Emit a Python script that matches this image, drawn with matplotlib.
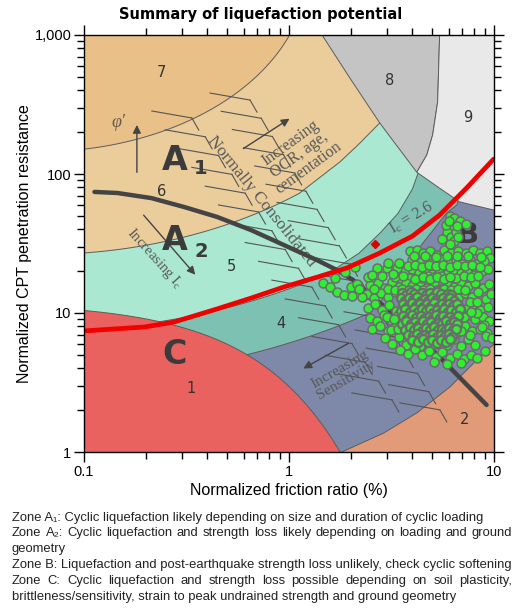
import numpy as np
import matplotlib.pyplot as plt
from matplotlib.patches import Polygon
from matplotlib.ticker import FixedLocator, FixedFormatter, LogLocator, NullFormatter

plt.rcParams['font.family'] = ['Liberation Sans', 'DejaVu Sans']

# Soil behaviour type zones (Robertson chart) - colours
zone_colors = {
    1: '#E9625F', 2: '#E19B79', 3: '#7E88A8', 4: '#7DC1B3', 5: '#AAE8D1',
    6: '#EBCD9C', 7: '#E9C087', 8: '#C4C4C4', 9: '#E9E9E9',
}
edge_col = '#5c5c5c'

# zone boundaries that do not follow an Ic circle
b65_fr = [1.77, 2.2, 2.77, 3.3, 3.6]
b65_qt = [122, 165, 233, 500, 3000]
b54_fr = [2.2, 2.8, 3.4, 4.0, 4.3, 4.6, 4.8]
b54_qt = [27, 38, 52, 78, 105, 200, 3000]
b43_fr = [3.36, 4.35, 5.87, 6.6, 7.2, 7.5]
b43_qt = [15.9, 29.9, 52.4, 60, 100, 3000]
b32_fr = [0.03, 1.0, 1.2, 1.81, 2.9, 4.2, 6.1, 8.9, 12]
b32_qt = [0.3, 0.3, 0.5, 1.0, 1.37, 1.91, 2.94, 5.15, 7.5]
l89_fr = [1.40, 1.45, 1.98, 2.77, 4.2, 5.43, 6.8, 10, 12]
l89_qt = [1500, 1000, 491, 233, 103, 79, 63, 55, 53]
div89_fr = [4.2, 4.7, 5.02, 5.31, 5.43, 5.45]
div89_qt = [103, 137, 191, 330, 1000, 3000]

# red trend line
red_fr = [0.1, 0.197, 0.275, 0.446, 0.653, 0.946, 1.37, 1.92, 2.77, 4.01, 5.43, 7.35, 9.96]
red_qt = [7.43, 7.93, 8.61, 10.7, 12.8, 15.4, 18.1, 21.1, 27.0, 35.8, 50.7, 79.3, 128]

# thick grey line
grey_fr = [0.1125, 0.1456, 0.213, 0.308, 0.446, 0.653, 0.946, 1.37, 1.71, 2.05, 3.47, 5.61, 9.2]
grey_qt = [74.3, 73.0, 67.1, 57.9, 49.1, 39.5, 30.8, 24.0, 20.4, 17.3, 8.9, 4.59, 2.18]

# CPT data points
trail_fr = [6.1, 6.4, 6.8, 7.3, 6.2, 5.9, 6.2, 6.5, 5.8, 5.6, 6.0, 6.6, 6.4, 6.7, 6.1]
trail_qt = [50, 48, 46, 44, 41, 38, 35.5, 38, 43, 34, 46, 42, 33, 35, 31.5]
low_fr = [1.46, 1.58, 1.71, 1.85, 2.00, 2.14, 2.03, 2.27, 2.42, 2.68, 3.00, 3.35,
          2.10, 1.87, 1.67, 3.03, 3.43, 2.53, 2.2, 2.85, 3.2]
low_qt = [16.5, 15.3, 14.1, 13.5, 15.3, 16.3, 13.3, 13.1, 18.3, 21.0, 21.0, 21.0,
          21.6, 19.6, 18.0, 23.0, 23.0, 18.7, 15.0, 18.5, 19.0]
body_fr = [
    3.9, 4.2, 4.5, 4.9, 5.3, 5.7, 6.2, 6.7, 7.3, 7.9, 8.5, 9.2, 9.6,
    4.0, 4.4, 4.7, 5.1, 5.5, 6.0, 6.5, 7.0, 7.6, 8.2, 8.9,
    3.67, 3.97, 4.3, 4.6, 5.0, 5.4, 5.9, 6.35, 6.9, 7.4, 8.0, 8.7, 9.4, 3.55, 3.84,
    2.48, 2.71, 2.93, 3.17, 3.43, 3.71, 4.0, 4.34, 4.7, 5.07, 5.5, 5.9, 6.4, 6.9, 7.5, 8.1, 8.8, 9.5,
    2.40, 2.6, 2.8, 3.03, 3.28, 3.55, 3.84, 4.15, 4.5, 4.86, 5.26, 5.7, 6.15, 6.65, 7.2, 7.8, 8.4, 9.1, 9.7,
    2.43, 2.62, 2.84, 3.06, 3.31, 3.59, 3.88, 4.2, 4.54, 4.9, 5.3, 5.7, 6.2, 6.7, 7.3, 7.9, 8.5, 9.3,
    2.48, 2.68, 2.9, 3.14, 3.39, 3.67, 3.97, 4.29, 4.64, 5.02, 5.43, 5.87, 6.35, 6.87, 7.43, 8.04, 8.8, 9.5,
    2.53, 2.77, 3.03, 3.28, 3.55, 3.84, 4.15, 4.49, 4.86, 5.26, 5.7, 6.15, 6.65, 7.2, 7.8, 8.5, 9.2,
    2.93, 3.17, 3.43, 3.71, 4.0, 4.34, 4.7, 5.07, 5.5, 5.9, 6.4, 6.9, 7.5, 8.1, 9.1, 9.8,
    3.47, 3.8, 4.1, 4.44, 4.8, 5.2, 5.6, 6.07, 6.6, 7.1, 7.7, 8.3, 9.0, 5.07, 5.93, 6.94,
]
body_qt = [
    27.7, 28.6, 27.2, 28.1, 26.3, 28.6, 26.8, 28.1, 27.2, 28.6, 26.8, 27.7, 25.0,
    24.0, 23.1, 24.9, 23.1, 24.4, 23.1, 24.0, 22.7, 24.0, 22.7, 23.6,
    20.0, 20.8, 19.4, 20.4, 19.0, 20.0, 19.0, 20.4, 19.4, 20.0, 18.7, 20.0, 20.8, 17.3, 17.8,
    15.9, 16.4, 15.2, 16.6, 15.4, 16.4, 15.6, 16.8, 15.2, 16.4, 15.0, 16.4, 15.4, 16.6, 15.6, 16.4, 15.2, 16.1,
    13.6, 12.8, 14.0, 13.0, 14.2, 13.3, 14.3, 12.9, 13.8, 12.8, 14.1, 13.2, 14.3, 12.8, 14.0, 13.0, 14.1, 12.7, 13.8,
    10.9, 11.6, 10.5, 11.4, 10.4, 11.2, 10.5, 11.6, 10.7, 11.4, 10.3, 11.2, 10.5, 11.4, 10.7, 11.6, 10.5, 11.0,
    9.2, 8.7, 9.6, 8.9, 9.7, 8.8, 9.5, 8.7, 9.6, 9.0, 9.7, 8.7, 9.5, 8.8, 9.6, 9.0, 9.3, 8.7,
    7.7, 8.1, 7.4, 7.9, 7.2, 7.8, 7.3, 8.1, 7.4, 7.9, 7.1, 7.8, 7.3, 8.0, 7.4, 7.7, 7.2,
    6.6, 6.0, 6.7, 5.9, 6.5, 5.8, 6.7, 6.0, 6.6, 5.9, 6.5, 5.8, 6.5, 5.9, 6.8, 6.6,
    5.4, 5.1, 5.5, 5.0, 5.3, 4.85, 5.2, 4.75, 5.1, 4.7, 5.0, 4.75, 5.3, 4.45, 4.3, 4.4,
]
mid_fr = [4.05, 4.6, 5.2, 5.9, 6.6, 7.5, 8.6,
          3.8, 4.1, 4.45, 4.8, 5.2, 5.65, 6.1, 6.6, 7.2, 7.8, 8.5,
          3.3, 3.6, 4.45, 4.75, 5.1, 5.5, 6.55, 7.1, 7.7, 8.4,
          2.6, 3.05, 3.3, 3.55, 3.85, 4.15, 4.5, 4.85, 5.25, 5.7, 6.15, 6.65, 7.2,
          4.1, 4.5, 4.9, 5.3, 5.7, 6.1, 7.6, 8.3, 8.9,
          3.0, 3.25, 7.15, 7.7, 8.3, 3.15, 3.4, 6.9, 7.6, 8.7]
mid_qt = [25.5, 25.9, 25.3, 25.7, 25.5, 25.9, 25.3,
          21.8, 22.2, 21.6, 22.0, 21.8, 22.2, 21.6, 22.0, 21.8, 22.2, 21.6,
          18.2, 18.6, 18.0, 18.4, 18.2, 18.6, 18.0, 18.4, 18.2, 18.6,
          14.8, 15.0, 14.6, 14.9, 14.7, 15.0, 14.6, 14.9, 14.7, 15.0, 14.6, 14.9, 14.7,
          17.7, 18.1, 17.7, 18.1, 17.7, 18.1, 12.0, 10.0, 8.2,
          9.3, 9.1, 9.4, 10.1, 11.9, 7.55, 7.7, 7.45, 6.9, 7.9]
# densest part of the cloud
core_fr = [3.55, 3.72, 3.95, 4.08, 4.3, 4.44, 4.68, 4.85, 5.1, 5.28, 5.5, 5.75, 5.95, 6.2,
           3.5, 3.66, 3.86, 4.02, 4.22, 4.38, 4.6, 4.78, 5.0, 5.2, 5.42, 5.62, 5.88, 6.1, 6.4,
           3.58, 3.8, 3.98, 4.15, 4.35, 4.52, 4.72, 4.93, 5.12, 5.35, 5.58, 5.8, 6.02, 6.3, 6.6,
           3.52, 3.7, 3.9, 4.08, 4.28, 4.46, 4.65, 4.88, 5.05, 5.28, 5.5, 5.72, 5.95, 6.2, 6.5, 6.8,
           3.6, 3.78, 3.98, 4.18, 4.4, 4.58, 4.8, 5.0, 5.22, 5.45, 5.66, 5.9, 6.12, 6.4, 6.7,
           3.55, 3.74, 3.92, 4.12, 4.32, 4.52, 4.72, 4.95, 5.15, 5.38, 5.6, 5.84, 6.08, 6.35, 6.6,
           3.68, 3.88, 4.06, 4.26, 4.46, 4.66, 4.88, 5.1, 5.32, 5.55, 5.78, 6.0, 6.28, 6.55,
           3.82, 4.02, 4.22, 4.42, 4.62, 4.84, 5.05, 5.28, 5.5, 5.74, 6.0, 6.25,
           4.0, 4.25, 4.5, 4.75, 5.0, 5.25, 5.5, 5.8, 6.1]
core_qt = [13.9, 13.4, 14.1, 13.6, 13.2, 14.0, 13.5, 13.9, 13.3, 14.2, 13.6, 13.1, 13.8, 13.4,
           12.9, 12.3, 12.8, 12.4, 13.0, 12.2, 12.7, 12.3, 12.9, 12.5, 12.1, 12.8, 12.4, 12.9, 12.3,
           11.7, 11.2, 11.8, 11.3, 11.6, 11.0, 11.7, 11.3, 11.8, 11.1, 11.6, 11.2, 11.7, 11.3, 11.6,
           10.3, 10.7, 10.2, 10.6, 10.1, 10.7, 10.3, 10.6, 10.0, 10.5, 10.2, 10.7, 10.1, 10.5, 10.2, 10.6,
           9.5, 9.1, 9.6, 9.2, 9.5, 9.0, 9.4, 9.1, 9.6, 9.2, 9.5, 9.0, 9.4, 9.1, 9.5,
           8.4, 8.7, 8.3, 8.6, 8.2, 8.7, 8.4, 8.6, 8.2, 8.5, 8.3, 8.7, 8.3, 8.6, 8.3,
           7.6, 7.9, 7.5, 7.8, 7.4, 7.8, 7.5, 7.9, 7.5, 7.7, 7.4, 7.8, 7.5, 7.7,
           7.0, 6.8, 7.1, 6.7, 7.0, 6.8, 7.1, 6.7, 7.0, 6.8, 7.1, 6.7,
           6.4, 6.2, 6.5, 6.2, 6.4, 6.1, 6.4, 6.2, 6.5]
marker_fr, marker_qt = 2.62, 31.3


def ic_line(ic, lo, hi, n=200):
    lf = np.linspace(lo, hi, n)
    return list(10 ** lf), list(10 ** (3.47 - np.sqrt(ic ** 2 - (lf + 1.22) ** 2)))


def add_zone(ax, fr, qt, zone, z):
    ax.add_patch(Polygon(np.column_stack([fr, qt]), closed=True,
                         facecolor=zone_colors[zone], edgecolor=edge_col,
                         linewidth=0.7, zorder=z))


fig = plt.figure(figsize=(5.32, 6.08), dpi=100)
ax = fig.add_axes([84 / 532, 156 / 608, 410 / 532, 417 / 608])
ax.set_xscale('log')
ax.set_yscale('log')
ax.set_xlim(0.1, 10)
ax.set_ylim(1, 1000)
ax.set_facecolor(zone_colors[2])

top = 3000
# zone 3 (above the 3/2 boundary)
add_zone(ax, b32_fr + [12, 0.03], b32_qt + [top, top], 3, 1.0)
# zone 4
f, q = ic_line(2.95, -1.5, np.log10(2.41))
add_zone(ax, f + b43_fr + [0.03], q + b43_qt + [top], 4, 1.1)
# zone 5
f, q = ic_line(2.6, -1.5, np.log10(1.58))
add_zone(ax, f + b54_fr + [0.03], q + b54_qt + [top], 5, 1.2)
# zone 6
f, q = ic_line(2.05, -1.5, np.log10(1.12))
add_zone(ax, f + b65_fr + [0.03], q + b65_qt + [top], 6, 1.3)
# zone 7
f, q = ic_line(1.31, -1.5, 0.085)
add_zone(ax, f + [0.03], q + [top], 7, 1.4)
# zone 1
fz = np.linspace(0.03, 2.1, 200)
add_zone(ax, list(fz) + [2.1, 0.03], list(12 * np.exp(-1.4 * fz)) + [0.3, 0.3], 1, 1.5)
# zones 8 and 9
j = l89_fr.index(4.2)
add_zone(ax, l89_fr[:j] + div89_fr, l89_qt[:j] + div89_qt, 8, 1.6)
add_zone(ax, div89_fr[::-1] + l89_fr[j + 1:] + [12], div89_qt[::-1] + l89_qt[j + 1:] + [top], 9, 1.7)

# hatched normally consolidated band
hatch_col = '#555555'
for (x0, y0), (x1, y1), n in [((0.405, 0.844), (0.868, 0.101), 18),
                               ((0.263, 0.801), (0.751, 0.125), 16)]:
    for t in np.linspace(0, 1, n):
        ax_x = x0 + (x1 - x0) * t
        ax_y = y0 + (y1 - y0) * t
        ax.plot([ax_x - 0.0976, ax_x], [ax_y + 0.0168, ax_y], color=hatch_col,
                lw=0.8, transform=ax.transAxes, zorder=2)
        ax.plot([ax_x, ax_x + 0.017], [ax_y, ax_y - 0.029], color=hatch_col,
                lw=0.8, transform=ax.transAxes, zorder=2)

serif = ['Liberation Serif', 'DejaVu Serif']
note_col = '#585858'
ax.text(0.434, 0.602, 'Normally Consolidated', rotation=-51, ha='center', va='center',
        rotation_mode='anchor', family=serif, fontsize=12.5, color=note_col,
        transform=ax.transAxes, zorder=3)
ax.text(0.525, 0.712, 'Increasing\nOCR, age,\ncementation', rotation=36, ha='center',
        va='center', rotation_mode='anchor', family=serif, fontsize=11.5, color=note_col,
        linespacing=0.95, transform=ax.transAxes, zorder=3)
ax.text(0.173, 0.465, r'Increasing $\mathregular{I_c}$', rotation=-48, ha='center',
        va='center', rotation_mode='anchor', family=serif, fontsize=10.5, color=note_col,
        transform=ax.transAxes, zorder=3)
ax.text(0.632, 0.185, 'Increasing\nSensitivity', rotation=30, ha='center', va='center',
        rotation_mode='anchor', family=serif, fontsize=11, color=note_col,
        linespacing=0.95, transform=ax.transAxes, zorder=3)
ax.text(0.800, 0.561, r'$\mathregular{I_c}$ = 2.6', rotation=31, ha='center', va='center',
        rotation_mode='anchor', family=serif, fontsize=11.5, color=note_col,
        transform=ax.transAxes, zorder=3)
ax.text(0.085, 0.791, "φ'", ha='center', va='center', family=serif, style='italic',
        fontsize=13, color='#6a5a4a', transform=ax.transAxes, zorder=3)

arrow_kw = dict(arrowstyle='-|>', color='#444444', lw=1.0, mutation_scale=12)
for start, end in [((0.129, 0.664), (0.129, 0.791)),
                   ((0.383, 0.724), (0.507, 0.803)),
                   ((0.141, 0.573), (0.276, 0.420)),
                   ((0.651, 0.264), (0.529, 0.197))]:
    ax.annotate('', xy=end, xytext=start, xycoords='axes fraction',
                textcoords='axes fraction', arrowprops=arrow_kw, zorder=3)

# zone numbers
for num, (x, y) in {'7': (0.190, 0.909), '8': (0.746, 0.892), '9': (0.937, 0.801),
                    '6': (0.190, 0.624), '5': (0.359, 0.444), '4': (0.480, 0.309),
                    '1': (0.261, 0.153), '2': (0.927, 0.077)}.items():
    ax.text(x, y, num, ha='center', va='center', fontsize=10.5, color='#333333',
            family='DejaVu Sans', transform=ax.transAxes, zorder=3)

# liquefaction zone letters
big = dict(ha='center', va='center', family='DejaVu Sans', weight='bold',
           color='#3b3b3b', transform=ax.transAxes, zorder=3)
ax.text(0.222, 0.700, 'A', fontsize=24, **big)
ax.text(0.285, 0.680, '1', fontsize=14, **big)
ax.text(0.222, 0.507, 'A', fontsize=24, **big)
ax.text(0.285, 0.481, '2', fontsize=14, **big)
ax.text(0.222, 0.233, 'C', fontsize=24, **big)
ax.text(0.935, 0.52, 'B', fontsize=21, **big)

ax.plot(grey_fr, grey_qt, color='#444444', lw=3.2, solid_capstyle='round', zorder=4)
dot_kw = dict(s=42, facecolor='#30EE30', edgecolor='#6c6c6c', zorder=5)
ax.scatter(body_fr + mid_fr + low_fr + trail_fr, body_qt + mid_qt + low_qt + trail_qt,
           linewidth=1.1, **dot_kw)
ax.scatter(core_fr, core_qt, linewidth=1.7, **dot_kw)
ax.plot(red_fr, red_qt, color='#F20000', lw=3.4, solid_capstyle='round', zorder=6)
ax.plot([marker_fr], [marker_qt], marker='D', ms=4.5, color='#E00000', zorder=6)

# axes and ticks
ax.xaxis.set_major_locator(FixedLocator([0.1, 1, 10]))
ax.xaxis.set_major_formatter(FixedFormatter(['0.1', '1', '10']))
ax.yaxis.set_major_locator(FixedLocator([1, 10, 100, 1000]))
ax.yaxis.set_major_formatter(FixedFormatter(['1', '10', '100', '1,000']))
for axis in (ax.xaxis, ax.yaxis):
    axis.set_minor_locator(LogLocator(base=10, subs=np.arange(2, 10)))
    axis.set_minor_formatter(NullFormatter())
ax.tick_params(which='both', direction='out', top=True, right=True, labelsize=10.5,
               width=1.0, colors='black')
ax.tick_params(which='major', length=7, pad=2)
ax.tick_params(which='minor', length=5)
for sp in ax.spines.values():
    sp.set_linewidth(1.0)
    sp.set_zorder(10)

fig.text(261 / 532, 1 - 15 / 608, 'Summary of liquefaction potential', ha='center',
         va='center', family='DejaVu Sans', weight='bold', fontsize=10.5)
fig.text(289 / 532, 1 - 490 / 608, 'Normalized friction ratio (%)', ha='center',
         va='center', fontsize=11.5)
fig.text(25 / 532, 1 - 243.5 / 608, 'Normalized CPT penetration resistance', ha='center',
         va='center', rotation=90, fontsize=11.5)

# notes under the chart
note_kw = dict(fontsize=9.4, color='#222222', va='center')
x_left, x_right = 12 / 532, 512 / 532
renderer = fig.canvas.get_renderer()


def note_line(y_px, text, justify=False):
    y = 1 - y_px / 608
    if not justify:
        fig.text(x_left, y, text, **note_kw)
        return
    words = text.split(' ')
    items = [fig.text(0, y, w, **note_kw) for w in words]
    widths = [t.get_window_extent(renderer).width / fig.bbox.width for t in items]
    gap = (x_right - x_left - sum(widths)) / (len(words) - 1)
    x = x_left
    for t, w in zip(items, widths):
        t.set_x(x)
        x += w + gap


note_line(518, 'Zone A₁: Cyclic liquefaction likely depending on size and duration of cyclic loading')
note_line(533, 'Zone A₂: Cyclic liquefaction and strength loss likely depending on loading and ground', True)
note_line(549, 'geometry')
note_line(565, 'Zone B: Liquefaction and post-earthquake strength loss unlikely, check cyclic softening')
note_line(581, 'Zone C: Cyclic liquefaction and strength loss possible depending on soil plasticity,', True)
note_line(597, 'brittleness/sensitivity, strain to peak undrained strength and ground geometry')

fig.savefig('out.png', dpi=100)
